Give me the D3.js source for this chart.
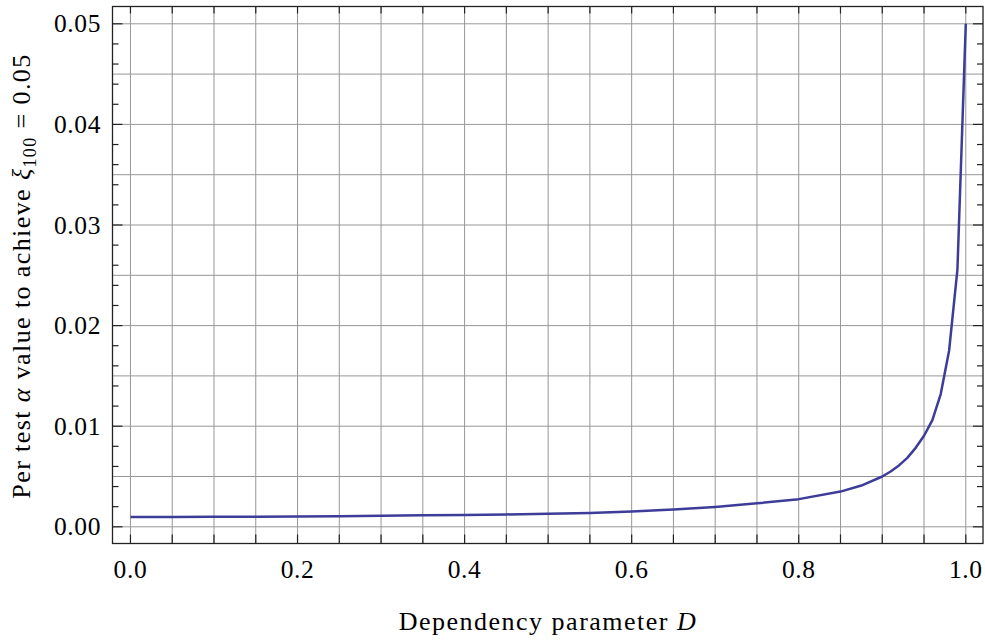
<!DOCTYPE html>
<html>
<head>
<meta charset="utf-8">
<script src="https://cdn.jsdelivr.net/npm/d3@7"></script>
<style>
  html, body { margin: 0; padding: 0; background: #fff; }
  svg { display: block; }
  text { font-family: "Liberation Serif", "DejaVu Serif", serif; fill: #000; }
</style>
</head>
<body>
<svg id="chart" width="985" height="642"></svg>
<script>
// ---- data ----
const dependencyD = [0.00, 0.05, 0.10, 0.15, 0.20, 0.25, 0.30, 0.35, 0.40, 0.45, 0.50, 0.55, 0.60, 0.65, 0.70, 0.75, 0.80, 0.85, 0.875, 0.90, 0.91, 0.92, 0.93, 0.94, 0.95, 0.96, 0.97, 0.98, 0.99, 1.00];
const alphaValues = [0.00097, 0.00098, 0.00099, 0.00101, 0.00103, 0.00106, 0.00110, 0.00114, 0.00118, 0.00123, 0.00130, 0.00138, 0.00153, 0.00172, 0.00198, 0.00233, 0.00275, 0.00350, 0.00410, 0.00500, 0.00550, 0.00610, 0.00685, 0.00785, 0.00905, 0.01060, 0.01320, 0.01750, 0.02560, 0.05000];
const xTickLabels = [0.0, 0.2, 0.4, 0.6, 0.8, 1.0];
const yTickLabels = [0.00, 0.01, 0.02, 0.03, 0.04, 0.05];
const xTitle = "Dependency parameter ";
const xTitleItalic = "D";

// ---- layout ----
const svg = d3.select("#chart");
const pLeft = 112.5, pRight = 983, pTop = 6.5, pBottom = 543.5;

const x = d3.scaleLinear().domain([-0.0215, 1.0206]).range([pLeft, pRight]);
const y = d3.scaleLinear().domain([-0.00166, 0.05172]).range([pBottom, pTop]);

// grid lines
const vGrid = d3.range(0, 1.0001, 0.05);
const hGrid = d3.range(0, 0.05001, 0.005);
const grid = svg.append("g");
grid.selectAll("line.v").data(vGrid).join("line")
  .attr("x1", d => x(d)).attr("x2", d => x(d))
  .attr("y1", pTop).attr("y2", pBottom)
  .attr("stroke", "#979797").attr("stroke-width", 1);
grid.selectAll("line.h").data(hGrid).join("line")
  .attr("y1", d => y(d)).attr("y2", d => y(d))
  .attr("x1", pLeft).attr("x2", pRight)
  .attr("stroke", "#979797").attr("stroke-width", 1);

// curve
const line = d3.line().x((d, i) => x(dependencyD[i])).y(d => y(d));
svg.append("path")
  .attr("d", line(alphaValues))
  .attr("fill", "none")
  .attr("stroke", "#3d3d99")
  .attr("stroke-width", 2.5)
  .attr("stroke-linejoin", "round");

// frame
svg.append("rect")
  .attr("x", pLeft).attr("y", pTop)
  .attr("width", pRight - pLeft).attr("height", pBottom - pTop)
  .attr("fill", "none").attr("stroke", "#222").attr("stroke-width", 1.3);

// ticks
const xMinor = d3.range(0, 1.0001, 0.05);
const yAll = d3.range(0, 0.05001, 0.002);
const isMajorY = d => Math.abs(Math.round(d * 100) - d * 100) < 1e-6;
const ticks = svg.append("g").attr("stroke", "#222").attr("stroke-width", 1.2);
ticks.selectAll("line.xb").data(xMinor).join("line")
  .attr("x1", d => x(d)).attr("x2", d => x(d))
  .attr("y1", pBottom).attr("y2", pBottom - 9);
ticks.selectAll("line.xt").data(xMinor).join("line")
  .attr("x1", d => x(d)).attr("x2", d => x(d))
  .attr("y1", pTop).attr("y2", pTop + 7);
ticks.selectAll("line.yl").data(yAll).join("line")
  .attr("y1", d => y(d)).attr("y2", d => y(d))
  .attr("x1", pLeft).attr("x2", d => pLeft + (isMajorY(d) ? 10 : 6));
ticks.selectAll("line.yr").data(yAll).join("line")
  .attr("y1", d => y(d)).attr("y2", d => y(d))
  .attr("x1", pRight).attr("x2", d => pRight - (isMajorY(d) ? 10 : 6));

// tick labels
svg.append("g").selectAll("text").data(xTickLabels).join("text")
  .attr("x", d => x(d)).attr("y", 578)
  .attr("text-anchor", "middle").attr("font-size", 25.5)
  .attr("letter-spacing", 0.6)
  .text(d => d3.format(".1f")(d));
svg.append("g").selectAll("text").data(yTickLabels).join("text")
  .attr("x", 101).attr("y", d => y(d) + 8.5)
  .attr("text-anchor", "end").attr("font-size", 25.5)
  .attr("letter-spacing", 0.6)
  .text(d => d3.format(".2f")(d));

// x title
const xt = svg.append("text").attr("x", 548).attr("y", 630)
  .attr("text-anchor", "middle").attr("font-size", 26)
  .attr("letter-spacing", 1.5);
xt.append("tspan").text(xTitle);
xt.append("tspan").attr("font-style", "italic").text(xTitleItalic);

// y title
const yt = svg.append("text")
  .attr("transform", "translate(30,276) rotate(-90)")
  .attr("text-anchor", "middle").attr("font-size", 26)
  .attr("letter-spacing", 1.4);
yt.append("tspan").text("Per test ");
yt.append("tspan").attr("font-style", "italic").text("α");
yt.append("tspan").text(" value to achieve ");
yt.append("tspan").attr("font-style", "italic").text("ξ");
yt.append("tspan").attr("font-size", 18).attr("dy", 6).text("100");
yt.append("tspan").attr("dy", -6).text(" = 0.05");
</script>
</body>
</html>
